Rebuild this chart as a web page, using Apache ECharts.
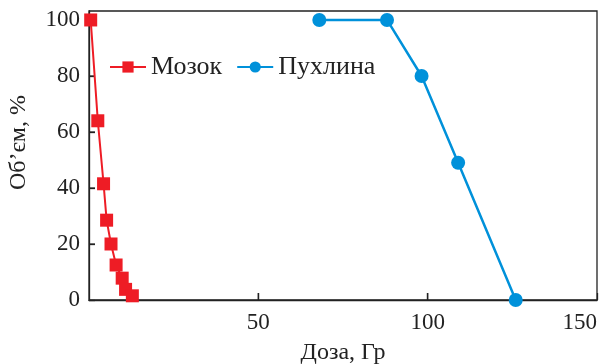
<!DOCTYPE html>
<html>
<head>
<meta charset="utf-8">
<script src="https://cdn.jsdelivr.net/npm/echarts@6/dist/echarts.min.js"></script>
<style>
  html, body { margin: 0; padding: 0; background: #fff; }
  #chart { width: 600px; height: 364px; }
</style>
</head>
<body>
<div id="chart"></div>
<script>
// дані
const brainDose = [0.5, 2.6, 4.3, 5.2, 6.5, 8.0, 9.8, 10.8, 12.8];
const brainVolume = [100, 64, 41.5, 28.5, 20, 12.5, 7.8, 3.8, 1.5];
const tumorDose = [68, 88, 98.2, 109, 126];
const tumorVolume = [100, 100, 80, 49, 0];
const xTicks = [0, 50, 100, 150];
const yTicks = [0, 20, 40, 60, 80, 100];

const serif = '"Liberation Serif", "DejaVu Serif", serif';
const red = '#ee1c25';
const blue = '#0091da';
const ink = '#222';

const zip = (xs, ys) => xs.map((x, i) => [x, ys[i]]);

// внутрішні поділки як короткі прямокутники в точках шкали
const xTickPoints = xTicks.slice(1, -1).map(v => [v, 0]);
const yTickPoints = yTicks.slice(1).map(v => [0, v]);

const chart = echarts.init(document.getElementById('chart'));

chart.setOption({
  animation: false,
  textStyle: { fontFamily: serif, color: ink },
  grid: {
    left: 89, right: 3, top: 11, bottom: 64,
    outerBoundsMode: 'none', containLabel: false,
    show: true, borderColor: ink, borderWidth: 1.3
  },
  legend: {
    left: 104, top: 49,
    itemWidth: 36, itemHeight: 14, itemGap: 14,
    textStyle: { fontFamily: serif, fontSize: 26, color: ink },
    data: ['Мозок', 'Пухлина']
  },
  xAxis: {
    type: 'value', min: 0, max: 150, interval: 50,
    name: 'Доза, Гр', nameLocation: 'middle', nameGap: 41,
    nameTextStyle: { fontFamily: serif, fontSize: 24, color: ink },
    axisLine: { show: true, onZero: false, lineStyle: { color: ink, width: 1.3 } },
    axisTick: { show: true, inside: true, length: 7, lineStyle: { color: ink, width: 1.3 } },
    axisLabel: {
      show: true, fontFamily: serif, fontSize: 23, color: ink, margin: 11,
      alignMaxLabel: 'right', showMinLabel: false
    },
    splitLine: { show: false }
  },
  yAxis: {
    type: 'value', min: 0, max: 103.2, interval: 20,
    name: 'Об’єм, %', nameLocation: 'middle', nameGap: 58, nameRotate: 90,
    nameTextStyle: { fontFamily: serif, fontSize: 24, color: ink, padding: [0, 0, 0, 26] },
    axisLine: { show: true, onZero: false, lineStyle: { color: ink, width: 1.3 } },
    axisTick: { show: true, inside: true, length: 6, lineStyle: { color: ink, width: 1.3 } },
    axisLabel: {
      show: true, fontFamily: serif, fontSize: 23, color: ink, margin: 9,
      showMaxLabel: false
    },
    splitLine: { show: false }
  },
  series: [
    {
      name: 'xticks', type: 'scatter', silent: true, clip: false, z: 1,
      data: xTickPoints,
      symbol: 'rect', symbolSize: [1.5, 7], symbolOffset: [0, -3.5],
      itemStyle: { color: ink }
    },
    {
      name: 'yticks', type: 'scatter', silent: true, clip: false, z: 1,
      data: yTickPoints,
      symbol: 'rect', symbolSize: [6, 1.5], symbolOffset: [3, 0],
      itemStyle: { color: ink }
    },
    {
      name: 'Мозок', type: 'line',
      data: zip(brainDose, brainVolume),
      symbol: 'rect', symbolSize: 13, z: 3,
      itemStyle: { color: red },
      lineStyle: { color: red, width: 2 }
    },
    {
      name: 'Пухлина', type: 'line',
      data: zip(tumorDose, tumorVolume),
      symbol: 'circle', symbolSize: 14, z: 3,
      itemStyle: { color: blue },
      lineStyle: { color: blue, width: 2.5 }
    }
  ]
});
</script>
</body>
</html>
